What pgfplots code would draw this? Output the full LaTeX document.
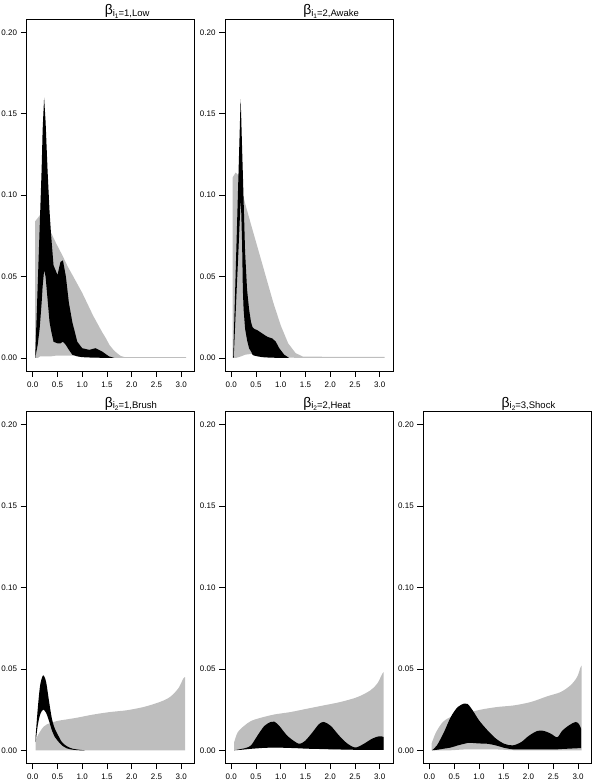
\documentclass[border=0pt]{standalone}
\usepackage{fontspec}
\setmainfont{Liberation Sans}
\usepackage{pgfplots}
\usepackage{pgfplotstable}
\pgfplotsset{compat=1.18}
\usepgfplotslibrary{fillbetween}

\definecolor{bandgray}{RGB}{190,190,190}

% x lo hi, gray band and black band for each panel
\pgfplotstableread{
x lo hi
0.05 0.000 0.084
0.10 0.000 0.086
0.15 0.001 0.088
0.22 0.001 0.085
0.30 0.001 0.080
0.37 0.001 0.077
0.48 0.0015 0.070
0.60 0.0015 0.063
0.71 0.0015 0.056
0.82 0.0015 0.050
0.91 0.0012 0.045
1.00 0.001 0.040
1.11 0.0008 0.033
1.22 0.0005 0.026
1.31 0.0003 0.021
1.40 0.0002 0.016
1.48 0.0001 0.012
1.55 0 0.008
1.63 0 0.005
1.70 0 0.003
1.78 0 0.0012
1.85 0 0.0006
3.10 0 0.0006
}\grayA
\pgfplotstableread{
x lo hi
0.05 0.000 0.000
0.10 0.008 0.044
0.14 0.018 0.080
0.18 0.034 0.116
0.20 0.044 0.140
0.23 0.054 0.160
0.26 0.050 0.145
0.30 0.036 0.115
0.34 0.022 0.090
0.37 0.017 0.076
0.42 0.010 0.057
0.50 0.009 0.051
0.56 0.009 0.059
0.61 0.010 0.060
0.67 0.008 0.050
0.73 0.005 0.034
0.80 0.002 0.022
0.90 0.001 0.010
1.00 0.0005 0.006
1.14 0.0003 0.005
1.27 0.0002 0.006
1.40 0.0001 0.004
1.54 0 0.001
1.65 0 0
}\blackA
\pgfplotstableread{
x lo hi
0.03 0 0.111
0.09 0 0.114
0.15 0.0005 0.112
0.20 0.001 0.105
0.28 0.002 0.095
0.40 0.0025 0.082
0.55 0.002 0.066
0.70 0.0015 0.050
0.85 0.001 0.034
1.00 0.0005 0.020
1.15 0.0003 0.009
1.30 0.0001 0.003
1.45 0 0.0008
3.10 0 0.0006
}\grayB
\pgfplotstableread{
x lo hi
0.04 0 0
0.05 0 0.0106
0.08 0.021 0.042
0.11 0.042 0.074
0.14 0.062 0.106
0.17 0.083 0.138
0.19 0.097 0.159
0.20 0.092 0.150
0.22 0.070 0.128
0.235 0.042 0.113
0.25 0.030 0.097
0.28 0.018 0.065
0.32 0.011 0.042
0.36 0.006 0.030
0.40 0.004 0.022
0.43 0.002 0.019
0.46 0.0015 0.018
0.53 0.001 0.017
0.63 0.0005 0.015
0.73 0.0003 0.013
0.83 0.0002 0.012
0.90 0.0001 0.010
0.97 0 0.006
1.07 0 0.002
1.17 0 0
}\blackB
\pgfplotstableread{
x lo hi
0.06 0 0.006
0.10 0 0.009
0.16 0 0.012
0.22 0 0.0145
0.29 0 0.016
0.39 0 0.017
0.49 0 0.018
0.69 0 0.019
0.89 0 0.020
1.23 0 0.022
1.56 0 0.0235
1.90 0 0.0246
2.24 0 0.0266
2.57 0 0.0297
2.77 0 0.0327
2.94 0 0.038
3.04 0 0.044
3.08 0 0.045
}\grayC
\pgfplotstableread{
x lo hi
0.06 0.005 0.009
0.10 0.015 0.025
0.15 0.022 0.040
0.21 0.025 0.046
0.27 0.023 0.042
0.33 0.018 0.030
0.39 0.012 0.019
0.45 0.008 0.013
0.50 0.006 0.010
0.59 0.003 0.005
0.69 0.0012 0.0025
0.80 0.0004 0.001
0.95 0 0.0003
1.05 0 0
}\blackC
\pgfplotstableread{
x lo hi
0.06 0 0.005
0.13 0.0003 0.011
0.26 0.0008 0.015
0.40 0.0012 0.018
0.60 0.0016 0.020
0.87 0.0018 0.022
1.20 0.0017 0.0235
1.54 0.0012 0.0256
1.87 0.0008 0.0276
2.21 0.0005 0.0297
2.55 0.0003 0.0327
2.81 0.0002 0.0368
2.95 0.0002 0.041
3.05 0.0002 0.047
3.08 0.0002 0.048
}\grayD
\pgfplotstableread{
x lo hi
0.06 0 0
0.20 0.0003 0.0008
0.30 0.0006 0.0015
0.40 0.0009 0.003
0.53 0.0012 0.009
0.67 0.0015 0.015
0.80 0.0016 0.0174
0.87 0.0016 0.0176
0.97 0.0016 0.015
1.13 0.0015 0.009
1.30 0.0013 0.005
1.39 0.0012 0.004
1.50 0.0010 0.006
1.64 0.0009 0.011
1.77 0.0008 0.016
1.87 0.0007 0.0174
2.01 0.0006 0.015
2.18 0.0005 0.009
2.35 0.0004 0.004
2.51 0.0003 0.0017
2.68 0.0003 0.004
2.85 0.0003 0.0072
2.99 0.0003 0.0086
3.08 0.0003 0.0082
}\blackD
\pgfplotstableread{
x lo hi
0.04 0 0.004
0.13 0 0.011
0.27 0 0.0174
0.43 0 0.0205
0.70 0.0005 0.0225
1.04 0.0005 0.025
1.37 0.0005 0.0266
1.71 0 0.0276
2.05 0 0.0297
2.38 0 0.0332
2.65 0 0.0358
2.85 0 0.040
2.98 0 0.045
3.05 0 0.051
3.07 0 0.052
}\grayE
\pgfplotstableread{
x lo hi
0.05 0 0
0.15 0.0003 0.003
0.29 0.001 0.011
0.43 0.0017 0.0205
0.57 0.003 0.0266
0.70 0.004 0.0287
0.77 0.0045 0.0285
0.87 0.0045 0.0246
1.00 0.0042 0.0184
1.17 0.004 0.0123
1.34 0.003 0.0072
1.51 0.0015 0.004
1.68 0.0006 0.003
1.85 0.0005 0.005
2.01 0.0005 0.009
2.18 0.0005 0.0119
2.31 0.0005 0.0119
2.45 0.0005 0.0102
2.58 0.0006 0.008
2.68 0.0008 0.012
2.82 0.001 0.0154
2.95 0.0012 0.0174
3.02 0.0013 0.016
3.06 0.0014 0.0133
}\blackE

\pgfplotsset{
  panel/.style={
    scale only axis, width=168pt, height=351.5pt, anchor=south west,
    xmin=-0.1257, xmax=3.2673, ymin=-0.008, ymax=0.208,
    axis line style={line width=0.8pt},
    every tick/.style={line width=0.8pt, black},
    tick align=outside, major tick length=6pt,
    xtick={0,0.5,...,3}, ytick={0,0.05,0.1,0.15,0.2},
    xtick pos=left, ytick pos=left, scaled ticks=false,
    tick label style={font=\fontsize{8}{8}\selectfont},
    /pgf/number format/assume math mode=true,
    xticklabel style={yshift=-1.5pt, /pgf/number format/.cd, fixed, fixed zerofill, precision=1},
    yticklabel style={/pgf/number format/.cd, fixed, fixed zerofill, precision=2},
    every axis title/.style={at={(0.465,1)}, anchor=base west, yshift=4.5pt, inner sep=0pt},
  },
}

\newcommand{\ttl}[3]{{\fontsize{14}{14}\selectfont β}\raisebox{-1.5pt}{\fontsize{9.5}{9.5}\selectfont i\raisebox{-2pt}{\fontsize{6.5}{6.5}\selectfont #1}=#2,#3}}

\begin{document}
\begin{tikzpicture}

\begin{axis}[panel, at={(26.5pt,411pt)}, title={\ttl{1}{1}{Low}}]
\addplot[draw=none, name path=gu] table[x=x, y=hi] {\grayA};
\addplot[draw=none, name path=gl] table[x=x, y=lo] {\grayA};
\addplot[fill=bandgray, draw=none] fill between[of=gu and gl];
\addplot[draw=none, name path=bu] table[x=x, y=hi] {\blackA};
\addplot[draw=none, name path=bl] table[x=x, y=lo] {\blackA};
\addplot[fill=black, draw=none] fill between[of=bu and bl];
\end{axis}

\begin{axis}[panel, at={(225pt,411pt)}, title={\ttl{1}{2}{Awake}}]
\addplot[draw=none, name path=gu] table[x=x, y=hi] {\grayB};
\addplot[draw=none, name path=gl] table[x=x, y=lo] {\grayB};
\addplot[fill=bandgray, draw=none] fill between[of=gu and gl];
\addplot[draw=none, name path=bu] table[x=x, y=hi] {\blackB};
\addplot[draw=none, name path=bl] table[x=x, y=lo] {\blackB};
\addplot[fill=black, draw=none] fill between[of=bu and bl];
\end{axis}

\begin{axis}[panel, at={(26.5pt,18.7pt)}, title={\ttl{2}{1}{Brush}}]
\addplot[draw=none, smooth, tension=0.5, name path=gu] table[x=x, y=hi] {\grayC};
\addplot[draw=none, name path=gl] table[x=x, y=lo] {\grayC};
\addplot[fill=bandgray, draw=none] fill between[of=gu and gl];
\addplot[draw=none, smooth, tension=0.5, name path=bu] table[x=x, y=hi] {\blackC};
\addplot[draw=none, smooth, tension=0.5, name path=bl] table[x=x, y=lo] {\blackC};
\addplot[fill=black, draw=none] fill between[of=bu and bl];
\end{axis}

\begin{axis}[panel, at={(225pt,18.7pt)}, title={\ttl{2}{2}{Heat}}]
\addplot[draw=none, smooth, tension=0.5, name path=gu] table[x=x, y=hi] {\grayD};
\addplot[draw=none, smooth, tension=0.5, name path=gl] table[x=x, y=lo] {\grayD};
\addplot[fill=bandgray, draw=none] fill between[of=gu and gl];
\addplot[draw=none, smooth, tension=0.5, name path=bu] table[x=x, y=hi] {\blackD};
\addplot[draw=none, smooth, tension=0.5, name path=bl] table[x=x, y=lo] {\blackD};
\addplot[fill=black, draw=none] fill between[of=bu and bl];
\end{axis}

\begin{axis}[panel, at={(423.3pt,18.7pt)}, title={\ttl{2}{3}{Shock}}]
\addplot[draw=none, smooth, tension=0.5, name path=gu] table[x=x, y=hi] {\grayE};
\addplot[draw=none, smooth, tension=0.5, name path=gl] table[x=x, y=lo] {\grayE};
\addplot[fill=bandgray, draw=none] fill between[of=gu and gl];
\addplot[draw=none, smooth, tension=0.5, name path=bu] table[x=x, y=hi] {\blackE};
\addplot[draw=none, smooth, tension=0.5, name path=bl] table[x=x, y=lo] {\blackE};
\addplot[fill=black, draw=none] fill between[of=bu and bl];
\end{axis}

\pgfresetboundingbox
\path[use as bounding box] (0,0) rectangle (592pt,782pt);
\end{tikzpicture}
\end{document}
